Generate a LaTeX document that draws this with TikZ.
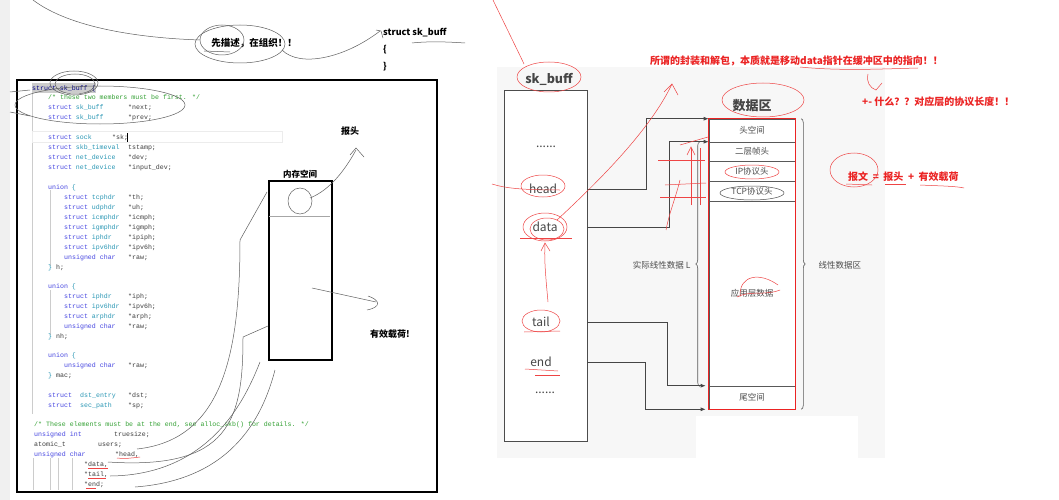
\documentclass[tikz,border=0pt]{standalone}
\usepackage{fontspec}
\setmainfont{Noto Sans CJK SC}
\newfontfamily\mono{Liberation Mono}
\usetikzlibrary{arrows.meta,decorations.pathreplacing}
\definecolor{kw}{RGB}{70,70,225}
\definecolor{ty}{RGB}{40,150,180}
\definecolor{cm}{RGB}{50,160,50}
\definecolor{mb}{RGB}{60,60,60}
\definecolor{rd}{RGB}{235,35,35}
\definecolor{pen}{RGB}{95,95,95}
\definecolor{panel}{RGB}{247,247,247}
\definecolor{dk}{RGB}{70,70,70}
\newcommand\kwd[1]{\textcolor{kw}{#1}}
\newcommand\typ[1]{\textcolor{ty}{#1}}
\newcommand\cmt[1]{\textcolor{cm}{#1}}
\tikzset{
  code/.style={font=\mono\fontsize{6.6}{7}\selectfont, inner sep=0pt, anchor=base west, text=mb},
  lbl/.style={font=\fontsize{9}{10}\selectfont\bfseries, inner sep=1pt},
  pen/.style={draw=pen, line width=0.5pt},
  rpen/.style={draw=rd!85, line width=0.5pt},
  ptr/.style={draw=dk, line width=0.8pt, -{Latex[length=5pt,width=4pt]}},
  fld/.style={font=\fontsize{12}{12}\selectfont, text=dk, inner sep=1pt},
  row/.style={draw=gray!70!black, line width=0.6pt, fill=white, minimum width=86pt, inner sep=0pt, font=\fontsize{8.5}{9}\selectfont, text=gray!60!black},
  brc/.style={draw=gray!70!black, line width=0.6pt, decorate, decoration={brace, amplitude=4pt}},
  barb/.style={-{Straight Barb[length=6pt,width=8pt]}}
}
\begin{document}
\begin{tikzpicture}[x=1pt,y=-1pt]
\useasboundingbox (0,0) rectangle (1059,500);
\fill[white] (0,0) rectangle (1059,500);
\fill[gray!12] (0,0) rectangle (10,500);

% ===== top-left notes =====
\node[lbl, font=\fontsize{9.5}{10}\selectfont\bfseries] (desc) at (254,43) {先描述，在组织！！};
\node[lbl, anchor=west] (sttop) at (382,33) {struct sk\_buff};
\node[lbl, anchor=west] (ob) at (382,50) {\{};
\node[lbl, anchor=west] (cb) at (382,67) {\}};
\draw[pen] (33,0) .. controls (70,28) and (140,38) .. (200,40);
\draw[pen] (240,44) ellipse [x radius=45, y radius=19];
\draw[pen] (222,40) ellipse [x radius=22, y radius=15];
\draw[pen] (204,51) -- (230,52);
\draw[pen] (282,50) .. controls (300,68) and (345,58) .. (380,31);
\draw[pen] (376,30) -- (381,31) -- (383,38);
\draw[pen] (412,43) .. controls (430,41) and (450,42) .. (465,43);

% ===== code box =====
\draw[black, line width=1.6pt] (17,80) rectangle (437,492);
\draw[gray!40, line width=0.4pt] (32,83) -- (32,414);
\draw[gray!40, line width=0.4pt] (50,290) -- (50,335);
\draw[gray!40, line width=0.4pt] (50,190) -- (50,266);
\foreach \x in {33,50,58,72} \draw[gray!40, line width=0.4pt] (\x,458) -- (\x,490);
\draw[gray!15, line width=0.4pt] (32,131) rectangle (282,142);
\fill[gray!40] (32,83) rectangle (96,93);

\node[code, text=blue!50!black] (c0) at (32,90.5) {struct sk\_buff \{};
\node[code] (c1) at (48,99.5) {\cmt{/* these two members must be first. */}};
\node[code] at (48,109.5) {\kwd{struct} \typ{sk\_buff}}; \node[code] at (128,109.5) {*next;};
\node[code] at (48,119.5) {\kwd{struct} \typ{sk\_buff}}; \node[code] at (128,119.5) {*prev;};
\node[code] at (48,139.5) {\kwd{struct} \typ{sock}}; \node[code] at (112,139.5) {*sk;};
\draw[black, line width=0.4pt] (127.5,133) -- (127.5,141.5);
\node[code] at (48,149.5) {\kwd{struct} \typ{skb\_timeval}}; \node[code] at (128,149.5) {tstamp;};
\node[code] at (48,159.5) {\kwd{struct} \typ{net\_device}}; \node[code] at (128,159.5) {*dev;};
\node[code] at (48,169.5) {\kwd{struct} \typ{net\_device}}; \node[code] at (128,169.5) {*input\_dev;};
\node[code] at (48,189.5) {\kwd{union} \typ{\{}};
\node[code] at (64,199.5) {\kwd{struct} \typ{tcphdr}}; \node[code] at (128,199.5) {*th;};
\node[code] at (64,209.5) {\kwd{struct} \typ{udphdr}}; \node[code] at (128,209.5) {*uh;};
\node[code] at (64,219.5) {\kwd{struct} \typ{icmphdr}}; \node[code] at (128,219.5) {*icmph;};
\node[code] at (64,229.5) {\kwd{struct} \typ{igmphdr}}; \node[code] at (128,229.5) {*igmph;};
\node[code] at (64,239.5) {\kwd{struct} \typ{iphdr}}; \node[code] at (128,239.5) {*ipiph;};
\node[code] at (64,249.5) {\kwd{struct} \typ{ipv6hdr}}; \node[code] at (128,249.5) {*ipv6h;};
\node[code] at (64,259.5) {\kwd{unsigned char}}; \node[code] at (128,259.5) {*raw;};
\node[code] at (48,269.5) {\typ{\}} h;};
\node[code] at (48,288.5) {\kwd{union} \typ{\{}};
\node[code] at (64,298.5) {\kwd{struct} \typ{iphdr}}; \node[code] at (128,298.5) {*iph;};
\node[code] at (64,308.5) {\kwd{struct} \typ{ipv6hdr}}; \node[code] at (128,308.5) {*ipv6h;};
\node[code] at (64,318.5) {\kwd{struct} \typ{arphdr}}; \node[code] at (128,318.5) {*arph;};
\node[code] at (64,328.5) {\kwd{unsigned char}}; \node[code] at (128,328.5) {*raw;};
\node[code] at (48,338.5) {\typ{\}} nh;};
\node[code] at (48,357.5) {\kwd{union} \typ{\{}};
\node[code] at (64,367.5) {\kwd{unsigned char}}; \node[code] at (128,367.5) {*raw;};
\node[code] at (48,377.5) {\typ{\}} mac;};
\node[code] at (48,397.5) {\kwd{struct}}; \node[code] at (80,397.5) {\typ{dst\_entry}}; \node[code] at (128,397.5) {*dst;};
\node[code] at (48,407.5) {\kwd{struct}}; \node[code] at (80,407.5) {\typ{sec\_path}}; \node[code] at (128,407.5) {*sp;};
\node[code] at (34,426.5) {\cmt{/* These elements must be at the end, see alloc\_skb() for details.  */}};
\node[code] at (34,436) {\kwd{unsigned int}}; \node[code] at (114,436) {truesize;};
\node[code] at (34,446) {atomic\_t}; \node[code] at (98,446) {users;};
\node[code] at (34,456) {\kwd{unsigned char}}; \node[code] (chead) at (115,456) {*head,};
\node[code] (cdata) at (84,466) {*data,};
\node[code] (ctail) at (84,476) {*tail,};
\node[code] (cend) at (84,486) {*end;};
\draw[rpen] (117,458) .. controls (125,459) and (132,458) .. (140,457);
\draw[rpen] (88,468) -- (108,468);
\draw[rpen] (88,478) -- (106,478);
\draw[rpen] (86,488) -- (96,488);

% scribbles over code
\draw[pen] (100,105) ellipse [x radius=85, y radius=19];
\draw[pen] (10,92) -- (30,90);
\draw[pen] (10,112) -- (30,116);
\draw[pen] (74,83) ellipse [x radius=24, y radius=12];
\draw[pen] (75,84) ellipse [x radius=20, y radius=10];

% ===== memory box =====
\node[lbl, font=\fontsize{8.5}{9}\selectfont\bfseries] (memlbl) at (300,174) {内存空间};
\draw[black, line width=1.6pt] (269,181) rectangle (332,360);
\draw[gray!70, line width=0.5pt] (269,216) -- (330,216);
\node[lbl] (hdrlbl) at (350,131) {报头};
\node[lbl] (pldlbl) at (390,334) {有效载荷!};
\draw[pen] (300,201) ellipse [x radius=12, y radius=13];
\draw[pen] (310,198) .. controls (330,190) and (345,170) .. (356,150);
\draw[pen] (350,155) -- (356,148) -- (364,157);
\draw[pen] (312,288) -- (376,302);
\draw[pen] (368,296) .. controls (380,300) and (382,307) .. (367,310);

% connectors from code to memory box (hand-drawn)
\draw[pen] (137,449) .. controls (220,440) and (240,360) .. (240,240) -- (267,192);
\draw[pen] (108,462) .. controls (230,470) and (243,420) .. (243,337) -- (268,326);
\draw[pen] (110,476) .. controls (210,475) and (245,400) .. (260,362);
\draw[pen] (135,487) .. controls (230,480) and (262,420) .. (275,370);

% ===== right diagram =====
\fill[panel] (497,67) rectangle (885,458);
\fill[white] (696,416) rectangle (858,460);

\node[font=\fontsize{12.5}{13}\selectfont\bfseries, text=dk] (skblbl) at (549,79) {sk\_buff};
\node[draw=gray!60!black, line width=0.8pt, fill=white, minimum width=83pt, minimum height=351pt, inner sep=0pt] (skb) at (545.5,265.5) {};
\node[fld] (d1) at (546,147) {......};
\node[fld] (hd) at (543,189) {head};
\node[fld] (dt) at (545,227) {data};
\node[fld] (tl) at (541,322) {tail};
\node[fld] (ed) at (541,362) {end};
\node[fld] (d2) at (545,393) {......};

\node[font=\fontsize{13}{14}\selectfont\bfseries, text=dk] (dalbl) at (752,106) {数据区};
\node[row, minimum height=23pt] (r1) at (752,130.5) {头空间};
\node[row, minimum height=19pt] (r2) at (752,151.5) {二层帧头};
\node[row, minimum height=20pt] (r3) at (752,171) {IP协议头};
\node[row, minimum height=20pt] (r4) at (752,191) {TCP协议头};
\node[row, minimum height=185pt] (r5) at (752,293.5) {应用层数据};
\node[row, minimum height=23pt] (r6) at (752,397.5) {尾空间};
\draw[rd, line width=1.5pt] (r1.north west) rectangle (r6.south east);

\draw[brc] ([xshift=-9pt]r5.south west) -- ([xshift=-9pt]r2.north west) coordinate[midway, xshift=-6pt] (lbr);
\node[anchor=east, font=\fontsize{8.5}{9}\selectfont, text=gray!60!black] (lenlbl) at (694,265) {实际线性数据 L};
\draw[brc] ([xshift=6pt]r1.north east) -- ([xshift=6pt]r6.south east);
\node[anchor=west, font=\fontsize{8.5}{9}\selectfont, text=gray!60!black] (linlbl) at (815,265) {线性数据区};

\draw[ptr] (hd -| skb.east) -| ([xshift=-62pt]r1.north west) -- (r1.north west);
\draw[ptr] (dt -| skb.east) -| ([xshift=-39pt]r2.north west) -- (r2.north west);
\draw[ptr] (tl -| skb.east) -| ([xshift=-41pt]r6.north west) -- ([xshift=-3pt]r6.north west);
\draw[ptr] (ed -| skb.east) -| ([xshift=-63pt]r6.south west) -- ([xshift=-3pt]r6.south west);

% red notes
\node[anchor=west, text=rd, font=\fontsize{10}{11}\selectfont\bfseries, inner sep=0pt] (note1) at (650,61) {所谓的封装和解包，本质就是移动data指针在缓冲区中的指向！！};
\node[anchor=west, text=rd, font=\fontsize{10}{11}\selectfont\bfseries, inner sep=0pt] (note2) at (862,102) {+- 什么？？对应层的协议长度！！};
\node[anchor=west, text=rd, font=\fontsize{10}{11}\selectfont\bfseries, inner sep=0pt] (note3) at (848,177) {报文 ~=~ 报头 ~+~ 有效载荷};

% red scribbles
\draw[rpen] (493,0) .. controls (505,25) and (515,45) .. (524,64);
\draw[rpen] (549,77) ellipse [x radius=32, y radius=15];
\draw[rpen] (543,186) ellipse [x radius=22, y radius=11];
\draw[rpen] (492,184) .. controls (505,188) and (520,190) .. (560,190);
\draw[rpen] (545,227) ellipse [x radius=22, y radius=14];
\draw[rpen] (547,229) ellipse [x radius=17, y radius=11];
\draw[rpen] (520,238) -- (572,238);
\draw[rpen] (557,220) .. controls (600,180) and (650,130) .. (672,84);
\draw[rpen] (664,92) -- (672,84) -- (678,95);
\draw[rpen] (548,302) .. controls (546,280) and (544,260) .. (545,244);
\draw[rpen] (541,251) -- (545,243) -- (550,251);
\draw[rpen] (541,321) ellipse [x radius=19, y radius=11];
\draw[rpen] (524,332) -- (560,331);
\draw[rpen] (525,369) -- (558,371);
\draw[rpen] (535,375) -- (560,375);
\draw[rpen] (763,100) ellipse [x radius=41, y radius=17];
\draw[rpen] (752,172) ellipse [x radius=27, y radius=7];
\draw[gray!60!black, line width=0.5pt] (752,193) ellipse [x radius=32, y radius=7];
\draw[rpen] (740,295) .. controls (740,275) and (760,272) .. (778,285);
\draw[rpen] (737,297) .. controls (750,290) and (765,296) .. (780,290);
\draw[rpen] (691,205) -- (691,148);
\draw[rpen] (687,155) -- (691,147) -- (695,155);
\draw[rpen] (700,205) -- (700,148);
\draw[rpen] (658,160) -- (705,160);
\draw[rpen] (665,185) -- (706,183);
\draw[rpen] (660,197) -- (706,197);
\draw[rpen] (680,145) -- (708,137);
\draw[rpen] (666,230) .. controls (670,210) and (675,200) .. (680,180);
\draw[rpen] (800,67) .. controls (840,71) and (880,69) .. (918,68);
\draw[rpen] (868,74) .. controls (866,82) and (870,88) .. (876,90) -- (882,83);
\draw[rpen] (854,170) ellipse [x radius=24, y radius=17];
\draw[rpen] (846,184) -- (872,185);
\draw[rpen] (885,184) -- (906,184);
\draw[rpen] (920,185) .. controls (940,186) and (955,186) .. (964,188);
\end{tikzpicture}
\end{document}
